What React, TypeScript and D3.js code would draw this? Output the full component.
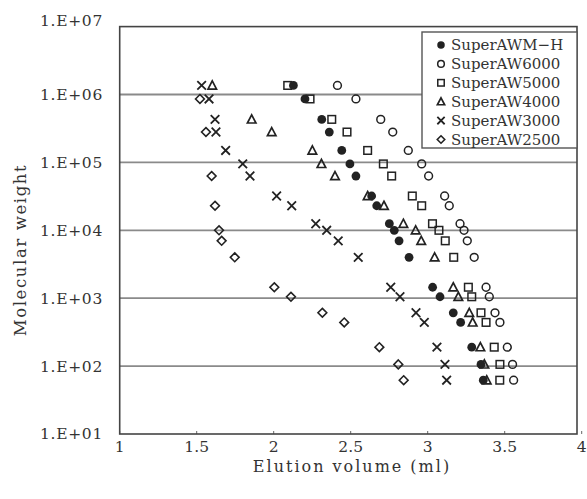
import React from "react";
import * as d3 from "d3";

// ---- data (molecular weight vs elution volume, ml) ----
const seriesNames = ["SuperAWM\u2212H", "SuperAW6000", "SuperAW5000", "SuperAW4000", "SuperAW3000", "SuperAW2500"];
const seriesShapes = ["filledCircle", "circle", "square", "triangle", "cross", "diamond"];

const mwAWMH = [1.36e6, 8.6e5, 4.3e5, 2.8e5, 1.5e5, 9.5e4, 6.3e4, 3.2e4, 2.3e4, 1.25e4, 1.0e4, 7.0e3, 4.0e3, 1450, 1050, 610, 440, 190, 106, 62];
const volAWMH = [2.128, 2.203, 2.312, 2.361, 2.442, 2.495, 2.534, 2.636, 2.669, 2.751, 2.783, 2.814, 2.879, 3.032, 3.080, 3.166, 3.214, 3.286, 3.346, 3.361];

const mwAW6000 = [1.36e6, 8.6e5, 4.3e5, 2.8e5, 1.5e5, 9.5e4, 6.3e4, 3.2e4, 2.3e4, 1.25e4, 1.0e4, 7.0e3, 4.0e3, 1450, 1050, 610, 440, 190, 106, 62];
const volAW6000 = [2.414, 2.534, 2.695, 2.773, 2.874, 2.961, 3.006, 3.110, 3.140, 3.210, 3.236, 3.257, 3.302, 3.379, 3.400, 3.437, 3.469, 3.517, 3.551, 3.558];

const mwAW5000 = [1.36e6, 8.6e5, 4.3e5, 2.8e5, 1.5e5, 9.5e4, 6.3e4, 3.2e4, 2.3e4, 1.25e4, 1.0e4, 7.0e3, 4.0e3, 1450, 1050, 610, 440, 190, 106, 62];
const volAW5000 = [2.091, 2.236, 2.377, 2.476, 2.610, 2.712, 2.766, 2.900, 2.961, 3.031, 3.073, 3.114, 3.169, 3.264, 3.286, 3.346, 3.379, 3.432, 3.469, 3.468];

const mwAW4000 = [1.36e6, 4.3e5, 2.8e5, 1.5e5, 9.5e4, 6.3e4, 3.2e4, 2.3e4, 1.25e4, 1.0e4, 7.0e3, 4.0e3, 1450, 1050, 610, 440, 190, 106, 62];
const volAW4000 = [1.601, 1.857, 1.987, 2.251, 2.310, 2.398, 2.610, 2.716, 2.842, 2.922, 2.958, 3.045, 3.166, 3.199, 3.270, 3.292, 3.342, 3.368, 3.383];

const mwAW3000 = [1.36e6, 8.6e5, 4.3e5, 2.8e5, 1.5e5, 9.5e4, 6.3e4, 3.2e4, 2.3e4, 1.25e4, 1.0e4, 7.0e3, 4.0e3, 1450, 1050, 610, 440, 190, 106, 62];
const volAW3000 = [1.532, 1.580, 1.619, 1.625, 1.688, 1.799, 1.846, 2.019, 2.117, 2.273, 2.344, 2.419, 2.549, 2.760, 2.820, 2.924, 2.978, 3.060, 3.112, 3.123];

const mwAW2500 = [8.6e5, 2.8e5, 6.3e4, 2.3e4, 1.0e4, 7.0e3, 4.0e3, 1450, 1050, 610, 440, 190, 106, 62];
const volAW2500 = [1.521, 1.560, 1.597, 1.619, 1.645, 1.662, 1.747, 2.004, 2.112, 2.316, 2.458, 2.686, 2.809, 2.844];

const xTicks = [1, 1.5, 2, 2.5, 3, 3.5, 4];
const xTickLabels = ["1", "1.5", "2", "2.5", "3", "3.5", "4"];
const yTicks = [1e1, 1e2, 1e3, 1e4, 1e5, 1e6, 1e7];
const yTickLabels = ["1.E+01", "1.E+02", "1.E+03", "1.E+04", "1.E+05", "1.E+06", "1.E+07"];
const gridValues = [1e2, 1e3, 1e4, 1e5, 1e6];

const xTitle = "Elution volume (ml)";
const yTitle = "Molecular weight";

const seriesMW = [mwAWMH, mwAW6000, mwAW5000, mwAW4000, mwAW3000, mwAW2500];
const seriesVol = [volAWMH, volAW6000, volAW5000, volAW4000, volAW3000, volAW2500];

// ---- layout ----
const W = 587;
const H = 499;
const left = 119.7;
const right = 577;
const top = 26.6;
const bottom = 434;
const ink = "#222";
const textColor = "#333";
const font = "'DejaVu Serif', 'Liberation Serif', serif";

const x = d3.scaleLinear().domain([1, 4]).range([left, 581.7]);
const y = d3.scaleLog().domain([1e1, 1e7]).range([bottom, top]);

function Marker({ shape, cx, cy, s = 1 }: { shape: string; cx: number; cy: number; s?: number }) {
  const sw = 1.5;
  if (shape === "filledCircle") return <circle cx={cx} cy={cy} r={4.4 * s} fill={ink} />;
  if (shape === "circle") return <circle cx={cx} cy={cy} r={3.9 * s} fill="none" stroke={ink} strokeWidth={sw} />;
  if (shape === "square") {
    const h = 3.8 * s;
    return <rect x={cx - h} y={cy - h} width={2 * h} height={2 * h} fill="none" stroke={ink} strokeWidth={sw} />;
  }
  if (shape === "triangle") {
    const h = 4.5 * s;
    const p = d3.path();
    p.moveTo(cx, cy - h);
    p.lineTo(cx + h * 0.95, cy + h * 0.8);
    p.lineTo(cx - h * 0.95, cy + h * 0.8);
    p.closePath();
    return <path d={p.toString()} fill="none" stroke={ink} strokeWidth={1.7} strokeLinejoin="miter" />;
  }
  if (shape === "cross") {
    const h = 4.3 * s;
    const p = d3.path();
    p.moveTo(cx - h, cy - h);
    p.lineTo(cx + h, cy + h);
    p.moveTo(cx + h, cy - h);
    p.lineTo(cx - h, cy + h);
    return <path d={p.toString()} fill="none" stroke={ink} strokeWidth={1.8} />;
  }
  // diamond
  const h = 4.4 * s;
  const p = d3.path();
  p.moveTo(cx, cy - h);
  p.lineTo(cx + h, cy);
  p.lineTo(cx, cy + h);
  p.lineTo(cx - h, cy);
  p.closePath();
  return <path d={p.toString()} fill="none" stroke={ink} strokeWidth={1.6} />;
}

export default function App() {
  const legendX = 422;
  const legendY = 32;
  const legendW = right - legendX;
  const legendH = 116;
  const rowH = 18.9;

  return (
    <svg width={W} height={H} style={{ display: "block", position: "absolute", left: 0, top: 0, background: "white" }}>
      <rect x={0} y={0} width={W} height={H} fill="white" />
      {/* grid lines */}
      {gridValues.map((v) => (
        <line key={"g" + v} x1={left} x2={right} y1={y(v)} y2={y(v)} stroke="#8a8a8a" strokeWidth={1.8} />
      ))}
      {/* bottom ticks */}
      {xTicks.map((t) => (
        <line key={"xt" + t} x1={x(t)} x2={x(t)} y1={bottom} y2={bottom - 3} stroke="#666" strokeWidth={1} />
      ))}
      {/* frame */}
      <rect x={left} y={top} width={right - left} height={bottom - top} fill="none" stroke="#444" strokeWidth={1.6} />

      {/* points */}
      {seriesMW.map((mws, si) => (
        <g key={"s" + si}>
          {mws.map((mw, i) => (
            <Marker key={i} shape={seriesShapes[si]} cx={x(seriesVol[si][i])} cy={y(mw)} />
          ))}
        </g>
      ))}

      {/* y tick labels */}
      {yTicks.map((t, i) => (
        <text key={"yl" + t} x={103} y={y(t) - (t === 1e7 ? 6 : 0)} dy="0.35em" textAnchor="end" fontFamily={font} fontSize={15.5} fill={textColor} letterSpacing={0.7}>
          {yTickLabels[i]}
        </text>
      ))}
      {/* x tick labels */}
      {xTicks.map((t, i) => (
        <text key={"xl" + t} x={x(t)} y={447} dy="0.35em" textAnchor="middle" fontFamily={font} fontSize={15.5} fill={textColor}>
          {xTickLabels[i]}
        </text>
      ))}
      {/* axis titles */}
      <text x={352} y={466} dy="0.35em" textAnchor="middle" fontFamily={font} fontSize={16} fill={textColor} letterSpacing={2}>
        {xTitle}
      </text>
      <text transform={`translate(20, ${250}) rotate(-90)`} dy="0.35em" textAnchor="middle" fontFamily={font} fontSize={16.5} fill={textColor} letterSpacing={1.6}>
        {yTitle}
      </text>

      {/* legend */}
      <rect x={legendX} y={legendY} width={legendW} height={legendH} fill="white" stroke="#555" strokeWidth={1.4} />
      {seriesNames.map((name, i) => (
        <g key={"lg" + i}>
          <Marker shape={seriesShapes[i]} cx={legendX + 19} cy={legendY + 13 + i * rowH} s={0.85} />
          <text x={legendX + 29} y={legendY + 13 + i * rowH} dy="0.35em" fontFamily={font} fontSize={15} fill={textColor}>
            {name}
          </text>
        </g>
      ))}
    </svg>
  );
}
